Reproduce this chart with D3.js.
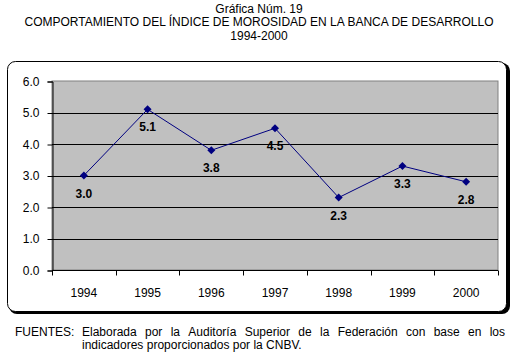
<!DOCTYPE html>
<html>
<head>
<meta charset="utf-8">
<script src="https://cdn.jsdelivr.net/npm/d3@7"></script>
<style>
    body { margin: 0; background: #fff; }
    svg text { font-family: "Liberation Sans", Arial, sans-serif; }
</style>
</head>
<body>
<div id="chart"></div>
<script>
const years = ['1994', '1995', '1996', '1997', '1998', '1999', '2000'];
const morosidad = [3.0, 5.1, 3.8, 4.5, 2.3, 3.3, 2.8];
const yTicks = [0, 1, 2, 3, 4, 5, 6];
const titleLines = [
    'Gráfica Núm. 19',
    'COMPORTAMIENTO DEL ÍNDICE DE MOROSIDAD EN LA BANCA DE DESARROLLO',
    '1994-2000'
];
const sourceLabel = 'FUENTES:';
const sourceLines = [
    'Elaborada por la Auditoría Superior de la Federación con base en los',
    'indicadores proporcionados por la CNBV.'
];

const width = 518, height = 355;
const plot = { left: 52, right: 498, top: 81, bottom: 270 };

const svg = d3.select('#chart').append('svg')
    .attr('width', width)
    .attr('height', height);

// --- titles
svg.append('g').selectAll('text')
    .data(titleLines)
    .join('text')
    .attr('x', 259)
    .attr('y', (d, i) => 13 + i * 13.3)
    .attr('text-anchor', 'middle')
    .attr('font-size', 12)
    .text(d => d);

// --- outer frame with shadow
svg.append('rect')
    .attr('x', 9).attr('y', 63)
    .attr('width', 501).attr('height', 251)
    .attr('rx', 8)
    .attr('fill', '#000');
svg.append('rect')
    .attr('x', 7.5).attr('y', 61.5)
    .attr('width', 499).attr('height', 250)
    .attr('rx', 8)
    .attr('fill', '#fff')
    .attr('stroke', '#000');

const x = d3.scaleBand().domain(years).range([plot.left, plot.right]).padding(0);
const y = d3.scaleLinear().domain([0, 6]).range([plot.bottom, plot.top]);

// --- plot area
svg.append('rect')
    .attr('x', plot.left).attr('y', plot.top)
    .attr('width', plot.right - plot.left)
    .attr('height', plot.bottom - plot.top)
    .attr('fill', '#c0c0c0')
    .attr('stroke', '#808080');

svg.append('g').selectAll('line')
    .data(yTicks.filter(d => d > 0 && d < 6))
    .join('line')
    .attr('x1', plot.left).attr('x2', plot.right)
    .attr('y1', d => Math.round(y(d)) + 0.5)
    .attr('y2', d => Math.round(y(d)) + 0.5)
    .attr('stroke', '#000');

// --- y axis
const yAxis = d3.axisLeft(y).tickValues(yTicks).tickSize(5).tickPadding(8)
    .tickFormat(d3.format('.1f'));
const gy = svg.append('g')
    .attr('transform', `translate(${plot.left + 0.5},0.5)`)
    .call(yAxis);
gy.selectAll('text').attr('font-size', 12).attr('fill', '#000')
    .style('font-family', '"Liberation Sans", Arial, sans-serif');

// --- x axis, ticks on category boundaries
const xAxis = d3.axisBottom(x).tickSize(0).tickPadding(18);
const gx = svg.append('g')
    .attr('transform', `translate(0,${plot.bottom + 0.5})`)
    .call(xAxis);
gx.select('.domain').attr('d', `M${plot.left},0H${plot.right}`);
gx.selectAll('text').attr('font-size', 12).attr('fill', '#000')
    .style('font-family', '"Liberation Sans", Arial, sans-serif');
gx.append('g').selectAll('line')
    .data(years.map(d => x(d)).concat([plot.right]))
    .join('line')
    .attr('x1', d => Math.round(d) + 0.5).attr('x2', d => Math.round(d) + 0.5)
    .attr('y1', 0).attr('y2', 5)
    .attr('stroke', '#000');

// --- series
const cx = d => x(d) + x.bandwidth() / 2;
const line = d3.line()
    .x((d, i) => cx(years[i]))
    .y(d => y(d));

svg.append('path')
    .datum(morosidad)
    .attr('fill', 'none')
    .attr('stroke', '#000080')
    .attr('stroke-width', 1)
    .attr('d', line);

svg.append('g').selectAll('path')
    .data(morosidad)
    .join('path')
    .attr('transform', (d, i) => `translate(${cx(years[i])},${y(d)})`)
    .attr('d', 'M0,-4L4,0L0,4L-4,0Z')
    .attr('fill', '#000080');

svg.append('g').selectAll('text')
    .data(morosidad)
    .join('text')
    .attr('x', (d, i) => cx(years[i]))
    .attr('y', d => y(d) + 22)
    .attr('text-anchor', 'middle')
    .attr('font-size', 12)
    .attr('font-weight', 'bold')
    .text(d => d3.format('.1f')(d));

// --- source note, first line justified
svg.append('text')
    .attr('x', 15).attr('y', 336)
    .attr('font-size', 12)
    .text(sourceLabel);

const noteLeft = 82, noteRight = 505;
const words = sourceLines[0].split(' ');
const gWords = svg.append('g');
const wordNodes = gWords.selectAll('text')
    .data(words)
    .join('text')
    .attr('y', 336)
    .attr('font-size', 12)
    .text(d => d);
const widths = wordNodes.nodes().map(n => n.getComputedTextLength());
const gap = (noteRight - noteLeft - d3.sum(widths)) / (words.length - 1);
let pos = noteLeft;
wordNodes.attr('x', (d, i) => {
    const p = pos;
    pos += widths[i] + gap;
    return p;
});

svg.append('text')
    .attr('x', noteLeft).attr('y', 349)
    .attr('font-size', 12)
    .text(sourceLines[1]);
</script>
</body>
</html>
